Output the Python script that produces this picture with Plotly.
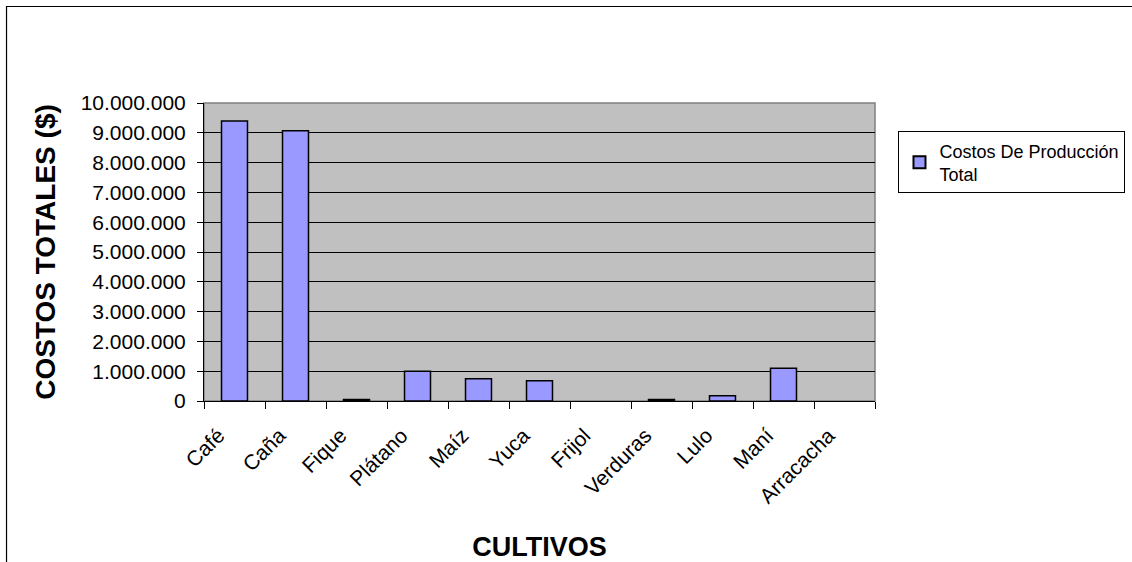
import plotly.graph_objects as go

# Production cost per crop (Colombian pesos)
cultivos = ["Café", "Caña", "Fique", "Plátano", "Maíz", "Yuca", "Frijol",
            "Verduras", "Lulo", "Maní", "Arracacha"]
costos = [9400000, 9070000, 50000, 1000000, 750000, 680000, 0,
          50000, 180000, 1100000, 0]
serie = "Costos De Producción<br>Total"

y_ticks = list(range(0, 10000001, 1000000))

FONT = "Arial, Liberation Sans, sans-serif"

# crops with no cost get no outline, so nothing is drawn on the baseline
outline = [1.5 if v > 0 else 0 for v in costos]

fig = go.Figure(
    go.Bar(
        x=cultivos,
        y=costos,
        name=serie,
        marker=dict(color="#9999FF", line=dict(color="black", width=outline)),
        showlegend=True,
    )
)

fig.update_layout(
    width=1132,
    height=562,
    margin=dict(l=204, r=257, t=103, b=161, autoexpand=False),
    paper_bgcolor="white",
    plot_bgcolor="#C0C0C0",
    separators=",.",
    bargap=0.574,
    font=dict(family=FONT, color="black"),
    showlegend=True,
    legend=dict(
        x=1.035, y=0.905, xanchor="left", yanchor="top",
        bordercolor="black", borderwidth=1, bgcolor="white",
        font=dict(size=18, family=FONT),
        itemsizing="constant",
    ),
    xaxis=dict(
        title=dict(text="<b>CULTIVOS</b>", font=dict(size=27, family=FONT), standoff=32),
        tickangle=-45,
        tickfont=dict(size=21, family=FONT),
        ticks="outside", tickson="boundaries", ticklen=7, tickcolor="black",
        ticklabelshift=-16, ticklabelstandoff=13,
        showline=True, linecolor="black", linewidth=1,
        showgrid=False, automargin=False,
    ),
    yaxis=dict(
        title=dict(text="<b>COSTOS TOTALES ($)</b>", font=dict(size=28, family=FONT), standoff=16),
        range=[0, 10000000],
        tickvals=y_ticks,
        tickformat=",d",
        tickfont=dict(size=21, family=FONT),
        ticks="outside", ticklen=6, tickcolor="black",
        ticklabelstandoff=7,
        showline=True, linecolor="black", linewidth=1,
        showgrid=True, gridcolor="black", gridwidth=1,
        zeroline=False, automargin=False,
    ),
    shapes=[
        # plot-area border (top and right show in gray)
        dict(type="rect", xref="paper", yref="paper", x0=0, x1=1, y0=0, y1=1,
             line=dict(color="#808080", width=1.5), layer="below"),
        # outer chart frame
        dict(type="rect", xref="paper", yref="paper",
             x0=-0.2943, x1=1.395, y0=-0.584, y1=1.3238,
             line=dict(color="black", width=1.2), layer="above"),
    ],
)

fig.write_html("out.html")
